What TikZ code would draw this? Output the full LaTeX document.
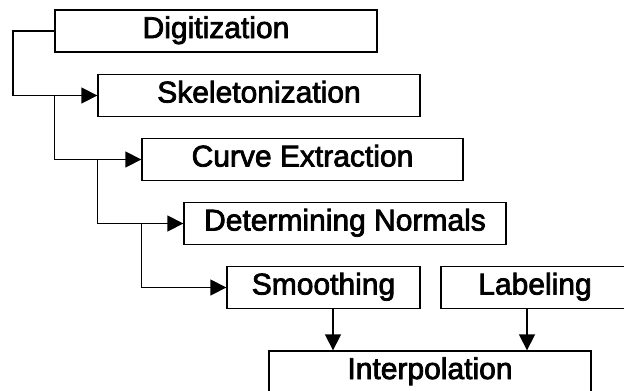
\documentclass[tikz,border=0pt]{standalone}
\usepackage{fontspec}
\newfontfamily\boxfont[FakeBold=2.5]{Liberation Sans}
\usetikzlibrary{arrows.meta}
\begin{document}
\begin{tikzpicture}[x=1pt,y=-1pt,
  box/.style={draw=black,line width=1.3pt,rectangle,inner xsep=0pt,inner ysep=0pt,
    text height=28pt,text depth=14pt,font=\boxfont\fontsize{30}{32}\selectfont},
  conn/.style={draw=black,line width=1.3pt,-{Triangle[length=16pt,width=16pt]}}]
\useasboundingbox (0,0) rectangle (624,391);
\clip (0,0) rectangle (624,391);
\node[box,minimum width=322pt] (dig) at (216,31) {Digitization};
\node[box,minimum width=322pt] (ske) at (259,95.5) {Skeletonization};
\node[box,minimum width=321pt] (cur) at (302.5,159.5) {Curve Extraction};
\node[box,minimum width=322pt] (det) at (345,223.5) {Determining Normals};
\node[box,minimum width=193pt] (smo) at (323.5,287.5) {Smoothing};
\node[box,minimum width=188pt] (lab) at (535,287.5) {Labeling};
\node[box,minimum width=322pt] (int) at (430,372) {Interpolation};
\coordinate (c0) at (13,31);
\draw[conn] (dig.west) -- (c0) |- (ske.west);
\draw[conn] (dig.west |- ske.west) |- (cur.west);
\draw[conn] (ske.west |- cur.west) |- (det.west);
\draw[conn] (cur.west |- det.west) |- (smo.west);
\draw[conn] (smo.south -| 333,0) -- (int.north -| 333,0);
\draw[conn] (lab.south -| 527,0) -- (int.north -| 527,0);
\end{tikzpicture}
\end{document}
